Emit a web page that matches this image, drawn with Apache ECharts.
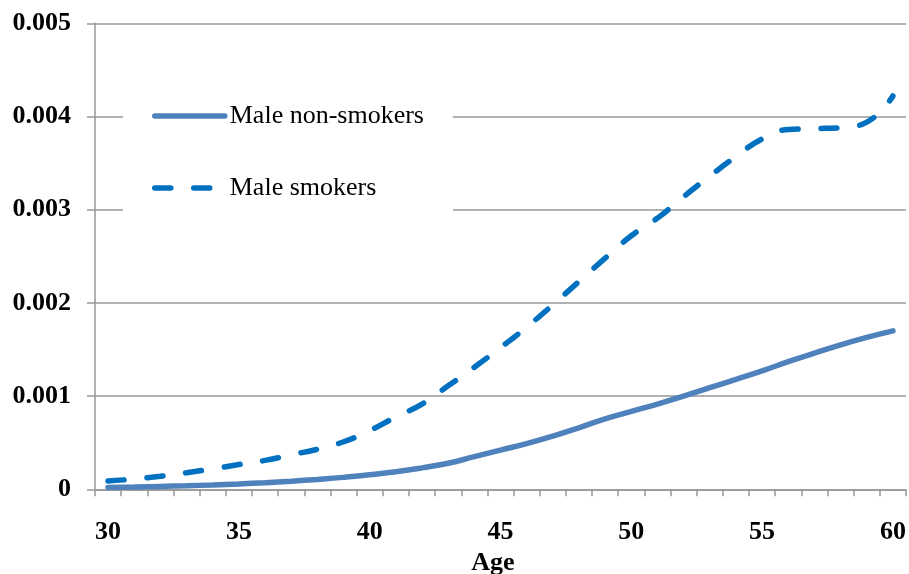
<!DOCTYPE html>
<html>
<head>
<meta charset="utf-8">
<script src="https://cdn.jsdelivr.net/npm/echarts@6/dist/echarts.min.js"></script>
<style>
  html, body { margin: 0; padding: 0; background: #fff; }
  #chart { width: 909px; height: 574px; }
</style>
</head>
<body>
<div id="chart"></div>
<script>
// ages on the category axis
const ages = [];
for (let a = 30; a <= 60; a++) ages.push(String(a));

// mortality rates
const nonSmokers = [0.00002, 0.000025, 0.000031, 0.000038, 0.000047, 0.000058, 0.000071, 0.000087, 0.000106, 0.000128,
  0.000155, 0.000188, 0.00023, 0.00028, 0.00035, 0.00042, 0.00049, 0.00057, 0.00066, 0.000755,
  0.000835, 0.000915, 0.001, 0.00109, 0.00118, 0.00127, 0.00137, 0.00146, 0.00155, 0.00163, 0.0017];
const smokers = [0.00009, 0.00011, 0.00014, 0.000178, 0.00022, 0.000266, 0.00031, 0.00037, 0.00043, 0.00051,
  0.00063, 0.000776, 0.000915, 0.00111, 0.00131, 0.00152, 0.00174, 0.00198, 0.00223, 0.00248,
  0.00272, 0.00291, 0.00314, 0.00336, 0.00357, 0.00376, 0.00386, 0.00387, 0.00388, 0.00394, 0.00422];

const yLabels = ['0', '0.001', '0.002', '0.003', '0.004', '0.005'];

const font = 'Liberation Serif, Times New Roman, serif';
const gray = '#989898';

const chart = echarts.init(document.getElementById('chart'));
chart.setOption({
  animation: false,
  grid: { left: 95, right: 3, top: 23.3, bottom: 84.7, containLabel: false, outerBoundsMode: 'none' },
  legend: {
    orient: 'vertical',
    left: 123,
    top: 78,
    padding: [25, 29, 25, 29],
    backgroundColor: '#fff',
    itemWidth: 70,
    itemHeight: 26,
    itemGap: 46,
    itemTextGap: 5,
    itemStyle: { opacity: 0 },
    lineStyle: { width: 5.5, cap: 'round' },
    textStyle: { fontFamily: font, fontSize: 26, color: '#000', lineHeight: 26 },
    data: ['Male non-smokers', 'Male smokers']
  },
  xAxis: {
    type: 'category',
    data: ages,
    boundaryGap: true,
    name: 'Age',
    nameLocation: 'middle',
    nameGap: 60,
    nameTextStyle: { fontFamily: font, fontSize: 26, fontWeight: 'bold', color: '#000', padding: [0, 15, 0, 0] },
    axisLine: { lineStyle: { color: gray, width: 1.5 } },
    axisTick: { show: true, interval: 0, length: 7, lineStyle: { color: gray, width: 1.5 } },
    axisLabel: { interval: 4, margin: 30, fontFamily: font, fontSize: 26, fontWeight: 'bold', color: '#000' },
    splitLine: { show: false }
  },
  yAxis: {
    type: 'value',
    min: 0,
    max: 0.005,
    interval: 0.001,
    axisLine: { show: true, lineStyle: { color: gray, width: 1.5 } },
    axisTick: { show: true, length: 8, lineStyle: { color: gray, width: 1.5 } },
    axisLabel: {
      margin: 24,
      fontFamily: font, fontSize: 26, fontWeight: 'bold', color: '#000',
      formatter: function (v, i) { return yLabels[i]; }
    },
    splitLine: { show: true, lineStyle: { color: gray, width: 1.5 } }
  },
  series: [
    {
      name: 'Male non-smokers',
      type: 'line',
      data: nonSmokers,
      smooth: true,
      symbol: 'none',
      z: 3,
      lineStyle: { color: '#4F81BD', width: 5.5, cap: 'round' },
      itemStyle: { color: '#4F81BD' }
    },
    {
      name: 'Male smokers',
      type: 'line',
      data: smokers,
      smooth: true,
      symbol: 'none',
      z: 3,
      lineStyle: { color: '#0070C0', width: 5.5, type: [16, 23], cap: 'round' },
      itemStyle: { color: '#0070C0' }
    }
  ]
});
</script>
</body>
</html>
